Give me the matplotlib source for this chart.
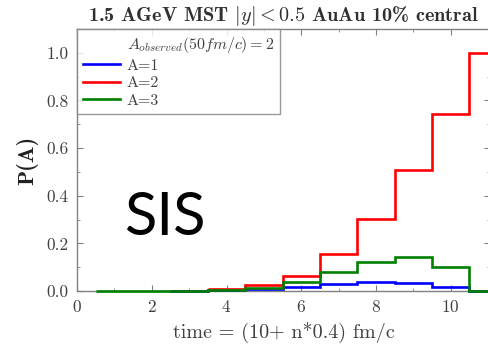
import numpy as np
import matplotlib
matplotlib.use("Agg")
import matplotlib.pyplot as plt
from matplotlib.ticker import MultipleLocator
from matplotlib.lines import Line2D

plt.rcParams['mathtext.fontset'] = 'cm'
plt.rcParams['font.family'] = ['cmr10', 'DejaVu Serif']
plt.rcParams['axes.formatter.use_mathtext'] = True

# data: bin centres n and probability P(A)
n_A1 = [3, 4, 5, 6, 7, 8, 9, 10, 11]
p_A1 = [0.002, 0.003, 0.009, 0.018, 0.030, 0.037, 0.033, 0.018, 0.0]
n_A2 = [4, 5, 6, 7, 8, 9, 10, 11]
p_A2 = [0.008, 0.024, 0.063, 0.155, 0.302, 0.510, 0.745, 1.0]
n_A3 = [1, 2, 3, 4, 5, 6, 7, 8, 9, 10, 11]
p_A3 = [0.0, 0.0, 0.0, 0.003, 0.011, 0.036, 0.078, 0.122, 0.142, 0.100, 0.0]

series = [("A=1", n_A1, p_A1, "#0000ff"),
          ("A=2", n_A2, p_A2, "#ff0000"),
          ("A=3", n_A3, p_A3, "#008000")]

W, H = 489, 349
fig = plt.figure(figsize=(W / 100, H / 100), dpi=100)
ax = fig.add_axes([77 / W, 1 - 291 / H, (490 - 77) / W, (291 - 29) / H])

handles = [Line2D([], [], color='none')]
labels = [r"$A_{observed}(50fm/c) = 2$"]
for label, n, p, c in series:
    n = np.asarray(n, float)
    edges = np.append(n - 0.5, n[-1] + 0.5)
    ax.stairs(p, edges, color=c, lw=1.9, baseline=None, clip_on=False, zorder=3)
    handles.append(Line2D([], [], color=c, lw=1.9))
    labels.append(label)

ax.set_xlim(0, 11.05)
ax.set_ylim(0, 1.10)
ax.xaxis.set_major_locator(MultipleLocator(2))
ax.xaxis.set_minor_locator(MultipleLocator(1))
ax.yaxis.set_major_locator(MultipleLocator(0.2))
ax.yaxis.set_minor_locator(MultipleLocator(0.1))
ax.yaxis.set_major_formatter(matplotlib.ticker.FormatStrFormatter('%.1f'))
for s in ax.spines.values():
    s.set_color('#808080')
    s.set_linewidth(1.0)
    s.set_zorder(2)
ax.tick_params(which='both', direction='in', colors='#808080', labelcolor='#404040',
               labelsize=12.5, top=True, right=True, pad=6)
ax.tick_params(which='major', length=4)
ax.tick_params(which='minor', length=2.5)

ax.set_xlabel("time = (10+ n*0.4) fm/c", fontsize=14.5, color='#404040', labelpad=5)
ax.set_ylabel("P(A)", fontsize=16, fontweight='bold', color='#202020',
              family=['cmb10', 'DejaVu Serif'], labelpad=6)
ax.set_title(r"1.5 AGeV MST $|y| < 0.5$ AuAu 10% central", fontsize=14.6,
             family=['cmb10', 'DejaVu Serif'], color='#303030', pad=6)

leg = ax.legend(handles, labels, loc='upper left',
                fontsize=11.5, frameon=True, fancybox=False,
                borderaxespad=0.0, handlelength=2.3, handletextpad=0.4,
                labelspacing=0.2, borderpad=0.4)
leg.get_frame().set_edgecolor('#808080')
leg.get_frame().set_linewidth(1.0)
leg.set_zorder(5)
for t in leg.get_texts():
    t.set_color('#404040')

ax.text(2.34, 0.305, "SIS", fontsize=43, family='Lato', color='black',
        ha='center', va='center')

fig.savefig("out.png", dpi=100)
